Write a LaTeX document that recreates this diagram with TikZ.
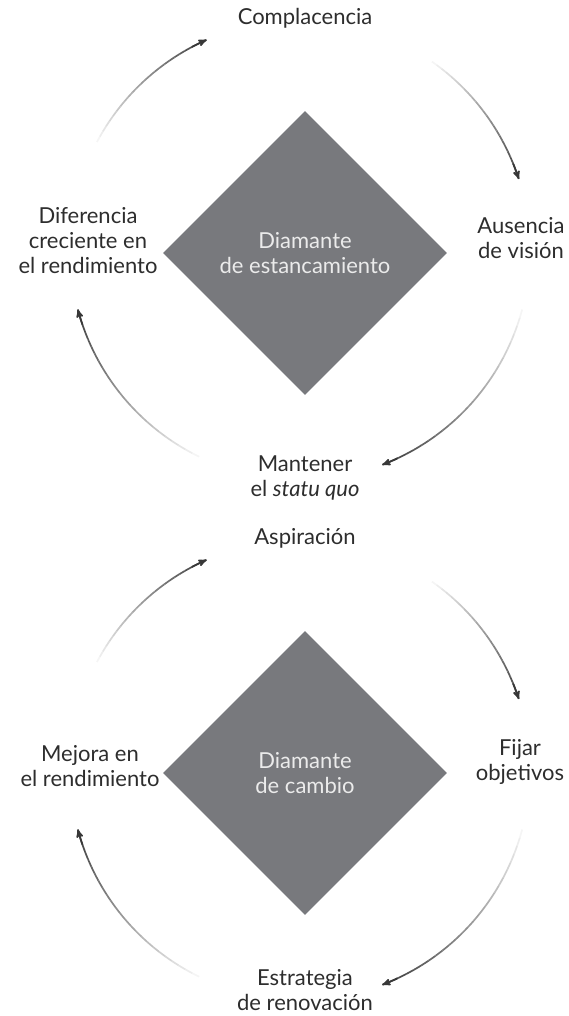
\documentclass[tikz,border=0pt]{standalone}
\usepackage{fontspec}
\setmainfont{Lato}
\usetikzlibrary{positioning}
\usetikzlibrary{calc}
\usetikzlibrary{arrows}
\usetikzlibrary{shapes.geometric}
\definecolor{diamgray}{RGB}{120,121,125}
\definecolor{labgray}{RGB}{45,45,45}
\tikzset{>=stealth'}
\tikzset{diam/.style={diamond, fill=diamgray, minimum width=284pt, minimum height=284pt, inner sep=0pt, text=white!92!black, align=center, font=\fontsize{22}{25}\selectfont}}
\tikzset{lab/.style={align=center, text=labgray, inner sep=0pt, font=\fontsize{22}{25}\selectfont}}
\tikzset{arcline/.style={line width=1.7pt}}

% faded arc round a centre: centre, from angle, to angle
\newcommand{\fadearc}[3]{%
  \foreach \k in {0,...,24}{
    \pgfmathsetmacro{\fa}{(#2)+((#3)-(#2))*\k/25}
    \pgfmathsetmacro{\fd}{((#3)-(#2))/25}
    \pgfmathtruncatemacro{\fs}{4+72*\k/24}
    \draw[arcline, black!\fs] ($(#1)+(\fa:230)$) arc[start angle=\fa, delta angle=\fd, radius=230];
  }
  \draw[arcline, black!78, ->] ($(#1)+({(#3)-4}:230)$) arc[start angle={(#3)-4}, end angle=#3, radius=230];
}

\begin{document}
\begin{tikzpicture}[x=1pt,y=-1pt]
\useasboundingbox (0,0) rectangle (569,1016);

%%% Stagnation:

\coordinate (c1) at (300,250);
\node[diam] (d1) at (305,253) {Diamante\\de estancamiento};

\node[lab] (comp) at (305,18) {Complacencia};
\node[lab] (ause) at (521,238) {Ausencia\\de visión};
\node[lab] (mant) at (305,478) {Mantener\\el \textit{statu quo}};
\node[lab] (dife) at (88,241) {Diferencia\\creciente en\\el rendimiento};

\fadearc{c1}{-152}{-114}
\fadearc{c1}{-55}{-18}
\fadearc{c1}{15}{69}
\fadearc{c1}{116}{165}

%%% Change:

\coordinate (c2) at (300,770);
\node[diam] (d2) at (305,773) {Diamante\\de cambio};

\node[lab] (aspi) at (305,538) {Aspiración};
\node[lab] (fija) at (520,762) {Fijar\\objetivos};
\node[lab] (estr) at (305,990) {Estrategia\\de renovación};
\node[lab] (mejo) at (90,766) {Mejora en\\el rendimiento};

\fadearc{c2}{-152}{-114}
\fadearc{c2}{-55}{-18}
\fadearc{c2}{15}{69}
\fadearc{c2}{116}{165}

\end{tikzpicture}
\end{document}
